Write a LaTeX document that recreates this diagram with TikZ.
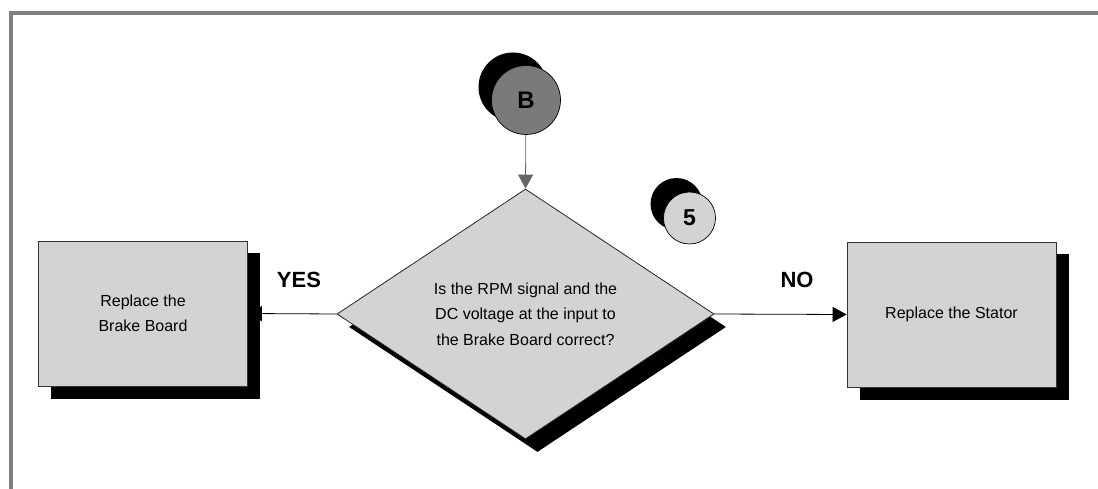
\documentclass[tikz,border=0pt]{standalone}
\usepackage{fontspec}
\setmainfont{Liberation Sans}
\usetikzlibrary{shapes.geometric,arrows.meta,shadows,backgrounds}
\definecolor{boxgray}{RGB}{211,211,211}
\definecolor{bgray}{RGB}{122,122,122}
\definecolor{framegray}{RGB}{128,128,128}
\begin{document}
\begin{tikzpicture}[x=1pt,y=-1pt,
  bodytext/.style={font={\fontsize{16}{25.5}\selectfont}, align=center},
  actbox/.style={draw=black!80, line width=0.8pt, fill=boxgray, inner sep=0pt,
    minimum width=209pt, minimum height=145pt, bodytext,
    general shadow={fill=black, shadow xshift=12.5pt, shadow yshift=-12.5pt}},
  decbox/.style={diamond, draw=black!85, line width=0.8pt, fill=boxgray, inner sep=0pt,
    minimum width=377pt, minimum height=250pt, bodytext,
    general shadow={fill=black, shadow xshift=12pt, shadow yshift=-13pt}},
  conn/.style={draw=black, line width=0.8pt, -{Triangle[length=14pt,width=15pt]}},
  lbl/.style={font={\fontsize{22}{26}\selectfont\bfseries}, inner sep=0pt}]
\useasboundingbox (0,0) rectangle (1098,489);
% boxes
\node[actbox] (left) at (143,313.5) {Replace the\\Brake Board};
\node[actbox] (right) at (951.5,314.5) {Replace the Stator};
\node[decbox] (dec) at (525.5,314) {Is the RPM signal and the\\DC voltage at the input to\\the Brake Board correct?};
% connectors circles
\node[circle, draw=black, line width=0.7pt, fill=bgray, minimum size=69pt, inner sep=0pt,
  general shadow={fill=black, shadow xshift=-13pt, shadow yshift=13pt},
  font={\fontsize{24}{26}\selectfont\bfseries}] (B) at (526,100) {B};
\node[circle, draw=black, line width=0.7pt, fill=boxgray, minimum size=52pt, inner sep=0pt,
  general shadow={fill=black, shadow xshift=-13pt, shadow yshift=14pt},
  font={\fontsize{23}{25}\selectfont\bfseries}] (five) at (689.5,218) {5};
% labels
\node[lbl] (yes) at (299,280) {YES};
\node[lbl] (no) at (797,280) {NO};
\begin{scope}[on background layer]
  \draw[framegray, line width=4pt] (11,489) -- (11,13) -- (1098,13);
  \draw[conn, draw=black!60] (B) -- (dec.north);
  \draw[conn] (dec.west) -- (left.east);
  \draw[conn] (dec.east) -- (right.west);
\end{scope}
\end{tikzpicture}
\end{document}
